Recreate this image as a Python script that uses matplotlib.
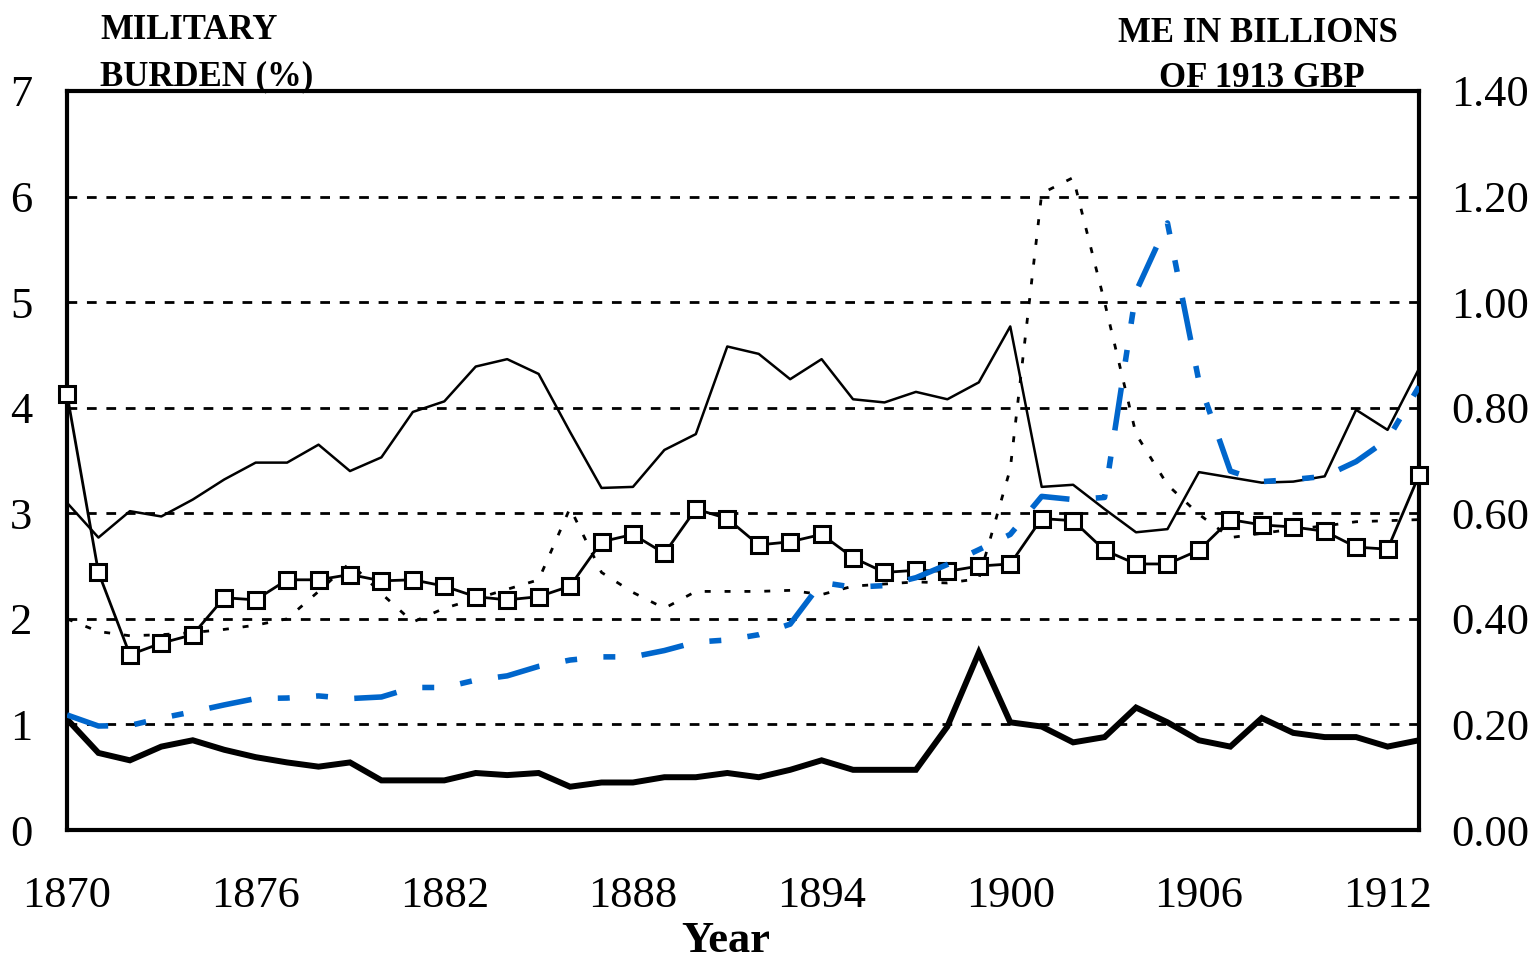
import matplotlib
matplotlib.use("Agg")
import matplotlib.pyplot as plt
from matplotlib.ticker import FixedLocator, FormatStrFormatter

plt.rcParams["font.family"] = ["Liberation Serif", "DejaVu Serif"]
plt.rcParams["lines.scale_dashes"] = False

years = list(range(1870, 1914))

# Military burden (%), left axis
burden_thin = [3.10, 2.77, 3.02, 2.97, 3.13, 3.32, 3.48, 3.48, 3.65, 3.40,
               3.53, 3.96, 4.06, 4.39, 4.46, 4.32, 3.77, 3.24, 3.25, 3.60,
               3.75, 4.58, 4.51, 4.27, 4.46, 4.08, 4.05, 4.15, 4.08, 4.24,
               4.77, 3.25, 3.27, 3.04, 2.82, 2.85, 3.39, 3.34, 3.29, 3.30,
               3.35, 3.98, 3.79, 4.37]
burden_squares = [4.13, 2.44, 1.66, 1.77, 1.85, 2.20, 2.18, 2.37, 2.37, 2.42,
                  2.36, 2.37, 2.31, 2.21, 2.18, 2.21, 2.31, 2.73, 2.80, 2.62,
                  3.04, 2.95, 2.70, 2.73, 2.80, 2.58, 2.44, 2.46, 2.45, 2.50,
                  2.52, 2.95, 2.93, 2.65, 2.52, 2.52, 2.65, 2.94, 2.89, 2.87,
                  2.83, 2.68, 2.66, 3.36]
burden_dotted = [2.00, 1.88, 1.84, 1.85, 1.87, 1.90, 1.94, 2.00, 2.26, 2.53,
                 2.24, 1.97, 2.10, 2.19, 2.28, 2.37, 3.05, 2.44, 2.25, 2.10,
                 2.26, 2.26, 2.26, 2.27, 2.23, 2.31, 2.33, 2.35, 2.34, 2.38,
                 3.42, 6.03, 6.18, 5.00, 3.75, 3.27, 2.99, 2.77, 2.81, 2.85,
                 2.88, 2.92, 2.93, 2.94]
burden_thick = [1.05, 0.73, 0.66, 0.79, 0.85, 0.76, 0.69, 0.64, 0.60, 0.64,
                0.47, 0.47, 0.47, 0.54, 0.52, 0.54, 0.41, 0.45, 0.45, 0.50,
                0.50, 0.54, 0.50, 0.57, 0.66, 0.57, 0.57, 0.57, 0.98, 1.68,
                1.02, 0.98, 0.83, 0.88, 1.16, 1.02, 0.85, 0.79, 1.06, 0.92,
                0.88, 0.88, 0.79, 0.85]
# ME in billions of 1913 GBP, right axis
me_billions = [0.218, 0.197, 0.198, 0.212, 0.224, 0.237, 0.249, 0.250, 0.254, 0.249,
               0.252, 0.270, 0.270, 0.284, 0.292, 0.310, 0.322, 0.328, 0.328, 0.340,
               0.356, 0.360, 0.370, 0.390, 0.469, 0.460, 0.463, 0.478, 0.503, 0.531,
               0.560, 0.632, 0.626, 0.630, 1.020, 1.150, 0.850, 0.680, 0.660, 0.664,
               0.670, 0.698, 0.740, 0.840]

x_ticks = [1870, 1876, 1882, 1888, 1894, 1900, 1906, 1912]
left_ticks = [0, 1, 2, 3, 4, 5, 6, 7]
right_ticks = [0.0, 0.2, 0.4, 0.6, 0.8, 1.0, 1.2, 1.4]

W, H = 1539, 964
fig = plt.figure(figsize=(W / 100, H / 100), dpi=100)
L, R, B, T = 67, 1419, 830, 91
ax = fig.add_axes([L / W, 1 - B / H, (R - L) / W, (B - T) / H])
ax2 = ax.twinx()

ax.set_xlim(1870, 1913)
ax.set_ylim(0, 7)
ax2.set_ylim(0, 1.4)

for a in (ax, ax2):
    for s in a.spines.values():
        s.set_visible(False)
for s in ax.spines.values():
    s.set_visible(True)
    s.set_linewidth(3.0)
    s.set_color("black")
ax.set_zorder(1)
ax2.set_zorder(2)
ax2.patch.set_visible(False)

# gridlines
for v in left_ticks[1:-1]:
    ax.axhline(v, color="black", lw=2.0, ls=(0, (7, 7)), zorder=0.5)

ax.plot(years, burden_thick, color="black", lw=4.3, solid_joinstyle="miter", zorder=3)
ax.plot(years, burden_thin, color="black", lw=1.8, zorder=3)
ax.plot(years, burden_dotted, color="black", lw=2.0, ls=(0, (4.3, 10)), zorder=3)
ax.plot(years, burden_squares, color="black", lw=2.0, marker="s", ms=11,
        mfc="white", mec="black", mew=2.2, clip_on=False, zorder=4)
ax2.plot(years, me_billions, color="#0066CC", lw=4.0,
         ls=(0, (31, 19, 8.6, 19, 8.6, 19)), dash_capstyle="butt", zorder=3)

ax.xaxis.set_major_locator(FixedLocator(x_ticks))
ax.yaxis.set_major_locator(FixedLocator(left_ticks))
ax2.yaxis.set_major_locator(FixedLocator(right_ticks))
ax2.yaxis.set_major_formatter(FormatStrFormatter("%.2f"))

ax.tick_params(axis="x", length=0, pad=33, labelsize=32)
ax.tick_params(axis="y", length=0, pad=25, labelsize=32)
ax2.tick_params(axis="y", length=0, pad=23, labelsize=32)

fig.text(100 / W, 1 - 39 / H, "MILITARY", fontsize=25, fontweight="bold",
         ha="left", va="baseline")
fig.text(100 / W, 1 - 85 / H, "BURDEN (%)", fontsize=25, fontweight="bold",
         ha="left", va="baseline")
fig.text(1258 / W, 1 - 42 / H, "ME IN BILLIONS", fontsize=25, fontweight="bold",
         ha="center", va="baseline")
fig.text(1262 / W, 1 - 87 / H, "OF 1913 GBP", fontsize=25, fontweight="bold",
         ha="center", va="baseline")
fig.text(726 / W, 3 / H, "Year", fontsize=32, fontweight="bold",
         ha="center", va="bottom")

fig.savefig("out.png", dpi=100)
